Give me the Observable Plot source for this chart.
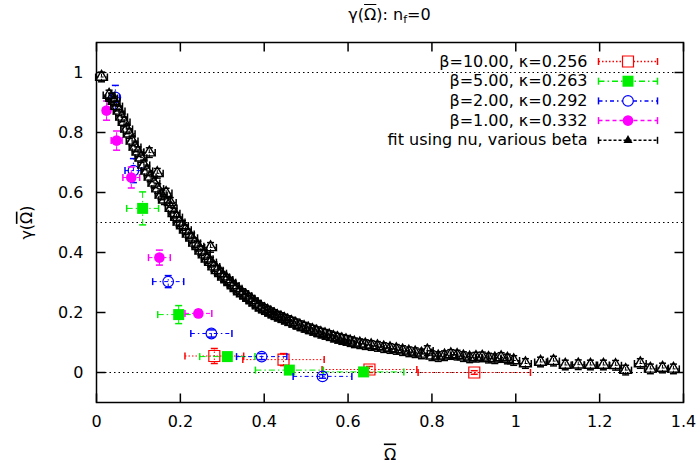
<!DOCTYPE html>
<html><head><meta charset="utf-8">
<script src="https://cdn.jsdelivr.net/npm/d3@7"></script>
<script src="https://cdn.jsdelivr.net/npm/@observablehq/plot@0.6"></script>
<style>
body{margin:0;background:#fff;font-family:"DejaVu Sans",sans-serif;}
#title{width:779px;height:30px;line-height:30px;text-align:center;font-size:16px;color:#000;}
.ol{text-decoration:overline;}
#title sub{font-size:11px;vertical-align:-3px;line-height:0;}
</style></head><body>
<div id="title">γ(<span class="ol">Ω</span>): n<sub>f</sub>=0</div>
<div id="chart"></div>
<script>
// ---- data ----
const xTicks = [0, 0.2, 0.4, 0.6, 0.8, 1, 1.2, 1.4];
const yTicks = [0, 0.2, 0.4, 0.6, 0.8, 1];
const refLines = [1, 0.5, 0];

const b10X = [0.281, 0.446, 0.651, 0.901];
const b10Y = [0.055, 0.043, 0.010, 0.000];
const b10XErr = [0.070, 0.097, 0.113, 0.134];
const b10YErr = [0.025, 0.020, 0.010, 0.006];

const b5X = [0.110, 0.196, 0.312, 0.460, 0.637];
const b5Y = [0.547, 0.193, 0.053, 0.008, 0.002];
const b5XErr = [0.038, 0.050, 0.066, 0.081, 0.096];
const b5YErr = [0.055, 0.030, 0.012, 0.006, 0.004];

const b2X = [0.045, 0.088, 0.171, 0.274, 0.394, 0.539];
const b2Y = [0.917, 0.673, 0.303, 0.130, 0.053, -0.013];
const b2XErr = [0.010, 0.020, 0.037, 0.049, 0.060, 0.070];
const b2YErr = [0.040, 0.040, 0.020, 0.012, 0.010, 0.006];

const b1X = [0.024, 0.048, 0.083, 0.150, 0.243];
const b1Y = [0.873, 0.773, 0.650, 0.383, 0.197];
const b1XErr = [0.008, 0.013, 0.020, 0.026, 0.032];
const b1YErr = [0.032, 0.032, 0.035, 0.025, 0.012];

const fitX = [0.012,0.030,0.036,0.042,0.048,0.054,0.060,0.066,0.072,0.078,0.085,0.092,0.099,0.126,0.106,0.113,0.120,0.128,0.145,0.137,
0.146,0.154,0.166,0.162,0.176,0.178,0.185,0.191,0.197,0.205,0.212,0.219,0.227,0.234,0.242,0.249,0.257,0.272,0.264,0.272,
0.280,0.288,0.296,0.303,0.311,0.318,0.326,0.333,0.341,0.348,0.356,0.363,0.371,0.378,0.386,0.393,0.401,0.408,0.416,0.424,
0.431,0.440,0.448,0.456,0.465,0.475,0.485,0.495,0.505,0.515,0.525,0.535,0.545,0.555,0.565,0.575,0.585,0.595,0.605,0.615,
0.628,0.641,0.655,0.670,0.685,0.700,0.715,0.730,0.745,0.760,0.775,0.789,0.800,0.815,0.830,0.845,0.860,0.875,0.890,0.905,
0.920,0.935,0.950,0.965,0.980,0.995,1.023,1.059,1.090,1.118,1.149,1.178,1.209,1.238,1.262,1.297,1.321,1.350,1.376];
const fitY = [0.985,0.925,0.915,0.905,0.888,0.872,0.852,0.835,0.812,0.796,0.772,0.752,0.736,0.733,0.716,0.692,0.672,0.652,0.664,0.632,
0.613,0.592,0.598,0.576,0.567,0.548,0.531,0.518,0.502,0.490,0.476,0.462,0.449,0.432,0.421,0.406,0.393,0.417,0.379,0.368,
0.353,0.341,0.331,0.319,0.310,0.301,0.290,0.281,0.270,0.263,0.256,0.248,0.240,0.232,0.223,0.216,0.210,0.205,0.199,0.193,
0.188,0.183,0.178,0.173,0.168,0.162,0.156,0.151,0.146,0.141,0.136,0.131,0.127,0.123,0.118,0.114,0.110,0.107,0.103,0.099,
0.096,0.093,0.090,0.087,0.083,0.080,0.077,0.073,0.069,0.066,0.062,0.073,0.056,0.053,0.056,0.060,0.058,0.053,0.049,0.051,
0.052,0.048,0.046,0.050,0.045,0.040,0.030,0.035,0.038,0.025,0.026,0.025,0.025,0.024,0.008,0.030,0.012,0.015,0.012];
const fitXErr = 0.014;
const fitYErr = 0.016;

const legendLabels = ["β=10.00, κ=0.256", "β=5.00, κ=0.263", "β=2.00, κ=0.292", "β=1.00, κ=0.332", "fit using nu, various beta"];

// ---- build ----
const rows = (xs, ys, xe, ye) => xs.map((x, i) => ({x, y: ys[i], xe: Array.isArray(xe) ? xe[i] : xe, ye: Array.isArray(ye) ? ye[i] : ye}));
const hbar = {draw(ctx, size) { const h = Math.sqrt(size / Math.PI); ctx.moveTo(-h, 0); ctx.lineTo(h, 0); }};
const vbar = {draw(ctx, size) { const h = Math.sqrt(size / Math.PI); ctx.moveTo(0, -h); ctx.lineTo(0, h); }};
const tickUp = {draw(ctx, size) { const h = Math.sqrt(size / Math.PI); ctx.moveTo(0, 0); ctx.lineTo(0, -h); }};
const tickDown = {draw(ctx, size) { const h = Math.sqrt(size / Math.PI); ctx.moveTo(0, 0); ctx.lineTo(0, h); }};
const tickRight = {draw(ctx, size) { const h = Math.sqrt(size / Math.PI); ctx.moveTo(0, 0); ctx.lineTo(h, 0); }};
const tickLeft = {draw(ctx, size) { const h = Math.sqrt(size / Math.PI); ctx.moveTo(0, 0); ctx.lineTo(-h, 0); }};

const series = [
  {data: rows(b10X, b10Y, b10XErr, b10YErr), color: "#ff0000", dash: "1.5,2", symbol: "square", r: 6.2, fill: "none", stroke: "#ff0000", sw: 1.2},
  {data: rows(b5X, b5Y, b5XErr, b5YErr), color: "#00ee00", dash: "6,3,1.5,3", symbol: "square", r: 6.2, fill: "#00ee00", stroke: "none", sw: 1},
  {data: rows(b2X, b2Y, b2XErr, b2YErr), color: "#0000ff", dash: "4,3,1.5,3", symbol: "circle", r: 5.3, fill: "none", stroke: "#0000ff", sw: 1.2},
  {data: rows(b1X, b1Y, b1XErr, b1YErr), color: "#ff00ff", dash: "4,3", symbol: "circle", r: 5.3, fill: "#ff00ff", stroke: "none", sw: 1},
  {data: rows(fitX, fitY, fitXErr, fitYErr), color: "#000000", dash: "3,2", symbol: "triangle", r: 4.2, fill: "none", stroke: "#000000", sw: 1.4}
];

function errMarks(s) {
  const {data, color, dash} = s;
  const cap = 3.5;
  return [
    Plot.link(data, {x1: d => d.x - d.xe, x2: d => d.x + d.xe, y1: "y", y2: "y", stroke: color, strokeDasharray: dash}),
    Plot.link(data, {x1: "x", x2: "x", y1: d => d.y - d.ye, y2: d => d.y + d.ye, stroke: color, strokeDasharray: dash}),
    Plot.dot(data, {x: d => d.x - d.xe, y: "y", symbol: vbar, r: cap, stroke: color, fill: "none"}),
    Plot.dot(data, {x: d => d.x + d.xe, y: "y", symbol: vbar, r: cap, stroke: color, fill: "none"}),
    Plot.dot(data, {x: "x", y: d => d.y - d.ye, symbol: hbar, r: cap, stroke: color, fill: "none"}),
    Plot.dot(data, {x: "x", y: d => d.y + d.ye, symbol: hbar, r: cap, stroke: color, fill: "none"}),
    Plot.dot(data, {x: "x", y: "y", symbol: s.symbol, r: s.r, fill: s.fill, stroke: s.stroke, strokeWidth: s.sw})
  ];
}

function legendMarks(s, i) {
  const dy = 19 + i * 19.7;
  const base = {frameAnchor: "top-right", dy};
  const isFit = i === 4;
  return [
    Plot.text([legendLabels[i]], {...base, text: d => d, dx: -96, textAnchor: "end", lineAnchor: "middle", fontSize: 16, fill: "black"}),
    Plot.dot([0], {...base, dx: -55.5, symbol: hbar, r: 29.5, stroke: s.color, strokeDasharray: s.dash, fill: "none"}),
    Plot.dot([0], {...base, dx: -85, symbol: vbar, r: 3.5, stroke: s.color, fill: "none"}),
    Plot.dot([0], {...base, dx: -26, symbol: vbar, r: 3.5, stroke: s.color, fill: "none"}),
    Plot.dot([0], {...base, dx: -55.5, symbol: s.symbol, r: isFit ? 3.4 : s.r,
      fill: isFit ? "black" : (s.fill === "none" ? "white" : s.fill), stroke: isFit ? "none" : s.stroke, strokeWidth: s.sw})
  ];
}

const chart = Plot.plot({
  width: 700, height: 433,
  marginTop: 12, marginRight: 17, marginBottom: 61, marginLeft: 96,
  style: {fontFamily: "DejaVu Sans", fontSize: "16px", color: "black", background: "white", overflow: "visible"},
  x: {domain: [0, 1.4]},
  y: {domain: [-0.1, 1.1]},
  marks: [
    Plot.ruleY(refLines, {stroke: "black", strokeDasharray: "1.5,3"}),
    ...series.flatMap(errMarks),
    Plot.frame({stroke: "black", strokeWidth: 1.5}),
    // inward ticks on all four sides
    Plot.dot(xTicks, {x: d => d, frameAnchor: "bottom", symbol: tickUp, r: 9, stroke: "black", fill: "none"}),
    Plot.dot(xTicks, {x: d => d, frameAnchor: "top", symbol: tickDown, r: 9, stroke: "black", fill: "none"}),
    Plot.dot(yTicks, {y: d => d, frameAnchor: "left", symbol: tickRight, r: 9, stroke: "black", fill: "none"}),
    Plot.dot(yTicks, {y: d => d, frameAnchor: "right", symbol: tickLeft, r: 9, stroke: "black", fill: "none"}),
    Plot.axisX(xTicks, {anchor: "bottom", tickSize: 0, tickPadding: 13, tickFormat: d => String(d), label: "Ω", labelAnchor: "center", labelOffset: 57, labelArrow: "none"}),
    Plot.axisY(yTicks, {anchor: "left", tickSize: 0, tickPadding: 13, tickFormat: d => String(d), label: "γ(Ω)", labelAnchor: "center", labelOffset: 76, labelArrow: "none"}),
    ...series.flatMap(legendMarks)
  ]
});

// put an overline on every Ω of the axis labels
d3.select(chart).selectAll("text").each(function() {
  const t = this.textContent;
  if ((t === "Ω" || t === "γ(Ω)") && this.children.length === 0) {
    const parts = t.split("Ω");
    const sel = d3.select(this);
    sel.text(null);
    parts.forEach((p, i) => {
      if (p) sel.append("tspan").text(p);
      if (i < parts.length - 1) sel.append("tspan").style("text-decoration", "overline").text("Ω");
    });
  }
});
document.getElementById("chart").appendChild(chart);
</script></body></html>
